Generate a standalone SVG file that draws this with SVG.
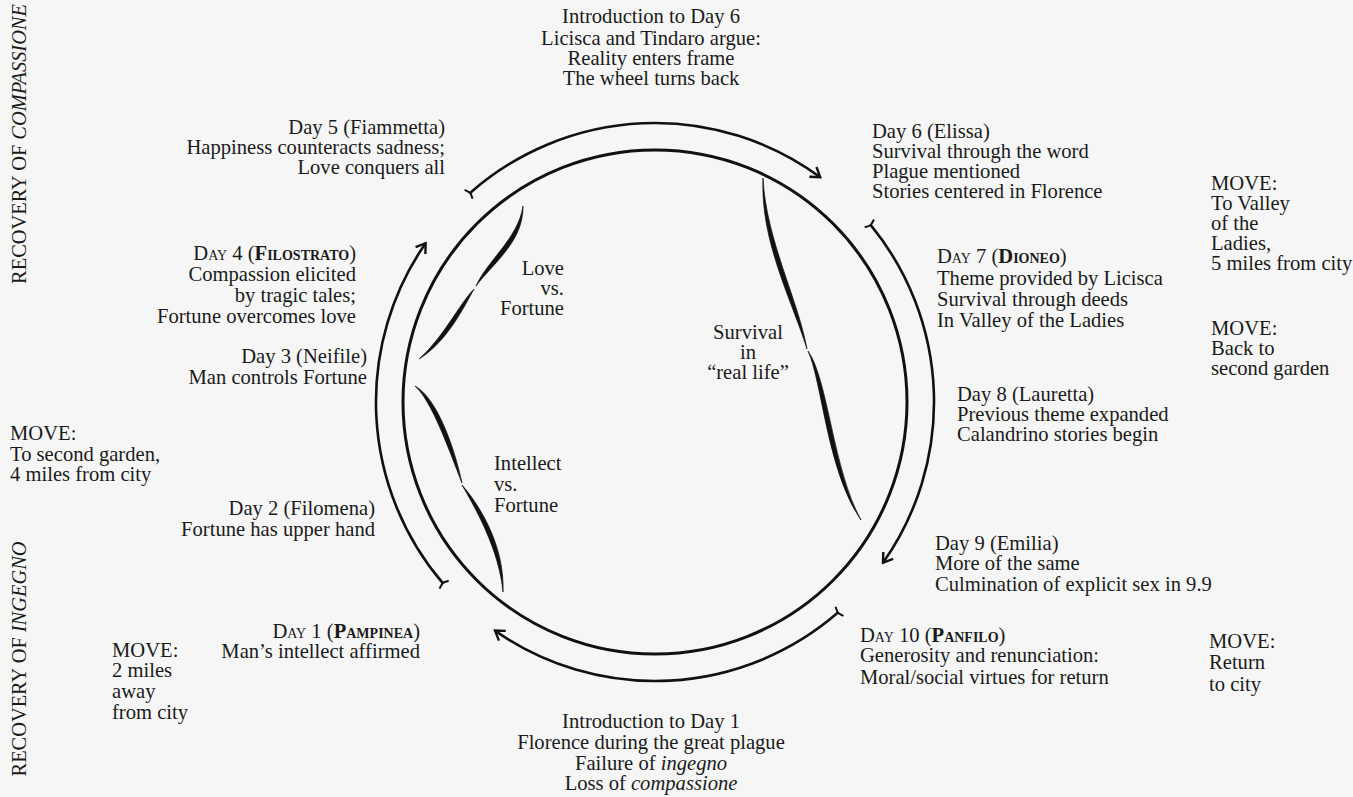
<svg xmlns="http://www.w3.org/2000/svg" width="1353" height="797" viewBox="0 0 1353 797">
<style>
text{font-family:"Liberation Serif","Times New Roman",serif;font-size:20.6px;fill:#1a1a1a}
.r{text-anchor:end}
.m{text-anchor:middle}
.sc{font-variant:small-caps}
.b{font-weight:bold}
.i{font-style:italic}
.v{font-size:20.4px}
.arc{fill:none;stroke:#111;stroke-width:2.6}
.ring{fill:none;stroke:#111;stroke-width:3}
.sw{fill:#111;stroke:#111;stroke-width:0.7}
</style>
<defs>
<marker id="head" viewBox="-12 -8 14 16" markerWidth="14" markerHeight="16" markerUnits="userSpaceOnUse" orient="auto" refX="0" refY="0">
<path d="M-9,-6 L0,0 L-9,6" fill="none" stroke="#111" stroke-width="2.4"/>
</marker>
<marker id="tail" viewBox="-8 -8 16 16" markerWidth="16" markerHeight="16" markerUnits="userSpaceOnUse" orient="auto" refX="0" refY="0">
<path d="M-2,-6 Q0,-1.5 0,0 Q0,1.5 -2,6" fill="none" stroke="#111" stroke-width="2"/>
</marker>
</defs>
<rect width="1353" height="797" fill="#f6f6f6"/>

<g id="wheel">
<circle class="ring" cx="655" cy="402" r="252"/>
</g>

<g id="connectors">
<path class="arc" d="M470.1,193 A279,279 0 0 1 820.2,177.2" marker-start="url(#tail)" marker-end="url(#head)"/>
<path class="arc" d="M870.6,224.9 A279,279 0 0 1 883,562.8" marker-start="url(#tail)" marker-end="url(#head)"/>
<path class="arc" d="M838,612.6 A279,279 0 0 1 495,630.6" marker-start="url(#tail)" marker-end="url(#head)"/>
<path class="arc" d="M442.8,583.2 A279,279 0 0 1 425.6,243.2" marker-start="url(#tail)" marker-end="url(#head)"/>
</g>

<g id="swash-love">
<path class="sw" d="M523,206 C523.7,241.6 492.7,263.6 476,286 C487.3,260.4 518.3,238.4 523,206 Z"/>
<path class="sw" d="M474,289 C464.2,306.7 447.2,341.7 419,359 C442.8,338.3 459.8,303.3 474,289 Z"/>
</g>
<g id="swash-intellect">
<path class="sw" d="M415,386 C437.7,398.7 454.7,448.7 462,483 C449.3,451.3 432.3,401.3 415,386 Z"/>
<path class="sw" d="M462,485 C482.8,508.9 504.8,548.9 503,592 C499.2,551.1 477.2,511.1 462,485 Z"/>
</g>
<g id="swash-survival">
<path class="sw" d="M763,178 C766,239.2 798,299.2 807,349 C792,300.8 760,240.8 763,178 Z"/>
<path class="sw" d="M808,351 C828,379.1 833,469.1 861,520 C827,470.9 822,380.9 808,351 Z"/>
</g>

<g id="intro6">
<text class="m" x="651" y="23">Introduction to Day 6</text>
<text class="m" x="651" y="45">Licisca and Tindaro argue:</text>
<text class="m" x="651" y="65">Reality enters frame</text>
<text class="m" x="651" y="85">The wheel turns back</text>
</g>
<g id="day5">
<text class="r" x="445" y="134">Day 5 (Fiammetta)</text>
<text class="r" x="445" y="154">Happiness counteracts sadness;</text>
<text class="r" x="445" y="174">Love conquers all</text>
</g>
<g id="day6">
<text x="872" y="138">Day 6 (Elissa)</text>
<text x="872" y="158">Survival through the word</text>
<text x="872" y="178">Plague mentioned</text>
<text x="872" y="198">Stories centered in Florence</text>
</g>
<g id="move-valley">
<text x="1211" y="190">MOVE:</text>
<text x="1211" y="210">To Valley</text>
<text x="1211" y="230">of the</text>
<text x="1211" y="250">Ladies,</text>
<text x="1211" y="270">5 miles from city</text>
</g>
<g id="move-back">
<text x="1211" y="335">MOVE:</text>
<text x="1211" y="355">Back to</text>
<text x="1211" y="375">second garden</text>
</g>
<g id="day7">
<text class="sc" x="937" y="263">Day 7 (<tspan class="b">Dioneo</tspan>)</text>
<text x="937" y="285">Theme provided by Licisca</text>
<text x="937" y="306">Survival through deeds</text>
<text x="937" y="327">In Valley of the Ladies</text>
</g>
<g id="day4">
<text class="r sc" x="356" y="260">Day 4 (<tspan class="b">Filostrato</tspan>)</text>
<text class="r" x="356" y="281">Compassion elicited</text>
<text class="r" x="356" y="302">by tragic tales;</text>
<text class="r" x="356" y="323">Fortune overcomes love</text>
</g>
<g id="love">
<text class="r" x="564" y="275">Love</text>
<text class="r" x="564" y="295">vs.</text>
<text class="r" x="564" y="315">Fortune</text>
</g>
<g id="survival">
<text class="m" x="748" y="339">Survival</text>
<text class="m" x="748" y="359">in</text>
<text class="m" x="748" y="379">“real life”</text>
</g>
<g id="day3">
<text class="r" x="367" y="363">Day 3 (Neifile)</text>
<text class="r" x="367" y="384">Man controls Fortune</text>
</g>
<g id="day8">
<text x="957" y="401">Day 8 (Lauretta)</text>
<text x="957" y="421">Previous theme expanded</text>
<text x="957" y="441">Calandrino stories begin</text>
</g>
<g id="move-garden">
<text x="10" y="440">MOVE:</text>
<text x="10" y="461">To second garden,</text>
<text x="10" y="481">4 miles from city</text>
</g>
<g id="intellect">
<text x="494" y="470">Intellect</text>
<text x="494" y="491">vs.</text>
<text x="494" y="512">Fortune</text>
</g>
<g id="day2">
<text class="r" x="375" y="515">Day 2 (Filomena)</text>
<text class="r" x="375" y="536">Fortune has upper hand</text>
</g>
<g id="day9">
<text x="935" y="550">Day 9 (Emilia)</text>
<text x="935" y="570">More of the same</text>
<text x="935" y="591">Culmination of explicit sex in 9.9</text>
</g>
<g id="day1">
<text class="r sc" x="420" y="638">Day 1 (<tspan class="b">Pampinea</tspan>)</text>
<text class="r" x="420" y="658">Man’s intellect affirmed</text>
</g>
<g id="day10">
<text class="sc" x="860" y="642">Day 10 (<tspan class="b">Panfilo</tspan>)</text>
<text x="860" y="662">Generosity and renunciation:</text>
<text x="860" y="684">Moral/social virtues for return</text>
</g>
<g id="move-away">
<text x="112" y="657">MOVE:</text>
<text x="112" y="677">2 miles</text>
<text x="112" y="698">away</text>
<text x="112" y="719">from city</text>
</g>
<g id="move-return">
<text x="1209" y="648">MOVE:</text>
<text x="1209" y="669">Return</text>
<text x="1209" y="691">to city</text>
</g>
<g id="intro1">
<text class="m" x="651" y="728">Introduction to Day 1</text>
<text class="m" x="651" y="749">Florence during the great plague</text>
<text class="m" x="651" y="770">Failure of <tspan class="i">ingegno</tspan></text>
<text class="m" x="651" y="790">Loss of <tspan class="i">compassione</tspan></text>
</g>
<g id="side-labels">
<text class="m v" transform="translate(26,144) rotate(-90)">RECOVERY OF <tspan class="i">COMPASSIONE</tspan></text>
<text class="m v" transform="translate(26,659) rotate(-90)">RECOVERY OF <tspan class="i">INGEGNO</tspan></text>
</g>
</svg>
